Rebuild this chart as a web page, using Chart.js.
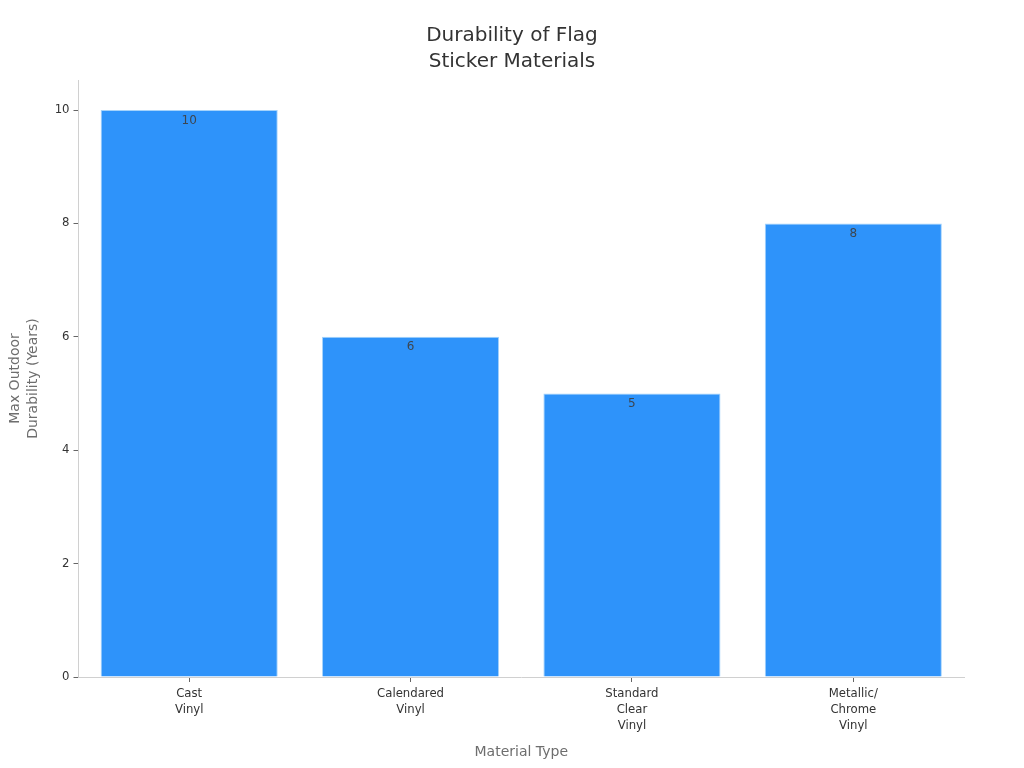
<!DOCTYPE html>
<html>
<head>
<meta charset="utf-8">
<title>Durability of Flag Sticker Materials</title>
<script src="https://cdn.jsdelivr.net/npm/chart.js@4"></script>
<style>
  html, body { margin: 0; padding: 0; background: #ffffff; }
  canvas { display: block; }
</style>
</head>
<body>
<canvas id="myChart" width="1024" height="768"></canvas>
<script>
'use strict';

const categories = [['Cast', 'Vinyl'], ['Calendared', 'Vinyl'], ['Standard', 'Clear', 'Vinyl'], ['Metallic/', 'Chrome', 'Vinyl']];
const durabilityYears = [10, 6, 5, 8];
const chartTitle = ['Durability of Flag', 'Sticker Materials'];
const xAxisTitle = 'Material Type';
const yAxisTitle = ['Max Outdoor', 'Durability (Years)'];

const fontName = '"DejaVu Sans", sans-serif';

// Value labels sit just inside the top of each bar.
const barLabels = {
  id: 'barLabels',
  afterDatasetsDraw(chart) {
    const ctx = chart.ctx;
    ctx.save();
    ctx.font = '12px ' + fontName;
    ctx.fillStyle = '#3d4650';
    ctx.textAlign = 'center';
    ctx.textBaseline = 'middle';
    chart.getDatasetMeta(0).data.forEach(function (bar, i) {
      ctx.fillText(String(durabilityYears[i]), bar.x, bar.y + 10.5);
    });
    ctx.restore();
  }
};

new Chart(document.getElementById('myChart'), {
  type: 'bar',
  data: {
    labels: categories,
    datasets: [{
      data: durabilityYears,
      backgroundColor: '#2e93fa',
      borderColor: '#a5d3fb',
      borderWidth: 1,
      barPercentage: 0.8,
      categoryPercentage: 1
    }]
  },
  options: {
    responsive: false,
    animation: false,
    devicePixelRatio: 1,
    plugins: {
      legend: { display: false },
      tooltip: { enabled: false },
      title: {
        display: true,
        text: chartTitle,
        color: '#333333',
        font: { family: fontName, size: 20, weight: 'normal', lineHeight: 1.3 },
        padding: { top: 23, bottom: 5 }
      }
    },
    scales: {
      x: {
        grid: { display: true, offset: false, drawOnChartArea: false, drawTicks: true, tickLength: 5, tickColor: '#666666' },
        border: { color: '#d0d0d0' },
        ticks: {
          color: '#333333',
          font: { family: fontName, size: 11.7, lineHeight: 1.38 },
          maxRotation: 0,
          padding: 3.5
        },
        title: {
          display: true,
          text: xAxisTitle,
          color: '#6e6e6e',
          font: { family: fontName, size: 14 },
          padding: { top: 0, bottom: 7 }
        },
        afterFit(scale) { scale.height = 91; }
      },
      y: {
        min: 0,
        max: 10.53,
        grid: { display: true, drawOnChartArea: false, drawTicks: true, tickLength: 5, tickColor: '#666666' },
        border: { color: '#d0d0d0' },
        ticks: {
          stepSize: 2,
          includeBounds: false,
          color: '#333333',
          font: { family: fontName, size: 11.7 },
          padding: 4
        },
        title: {
          display: true,
          text: yAxisTitle,
          color: '#6e6e6e',
          font: { family: fontName, size: 14, lineHeight: 1.3 },
          padding: { top: 6, bottom: 0 }
        },
        afterFit(scale) { scale.width = 78.5; }
      },
      // Empty right axis keeps the title centred on the page, as the plot stops short of the edge.
      spacer: {
        position: 'right',
        grid: { display: false },
        border: { display: false },
        ticks: { display: false },
        afterFit(scale) { scale.width = 60; }
      }
    }
  },
  plugins: [barLabels]
});
</script>
</body>
</html>
